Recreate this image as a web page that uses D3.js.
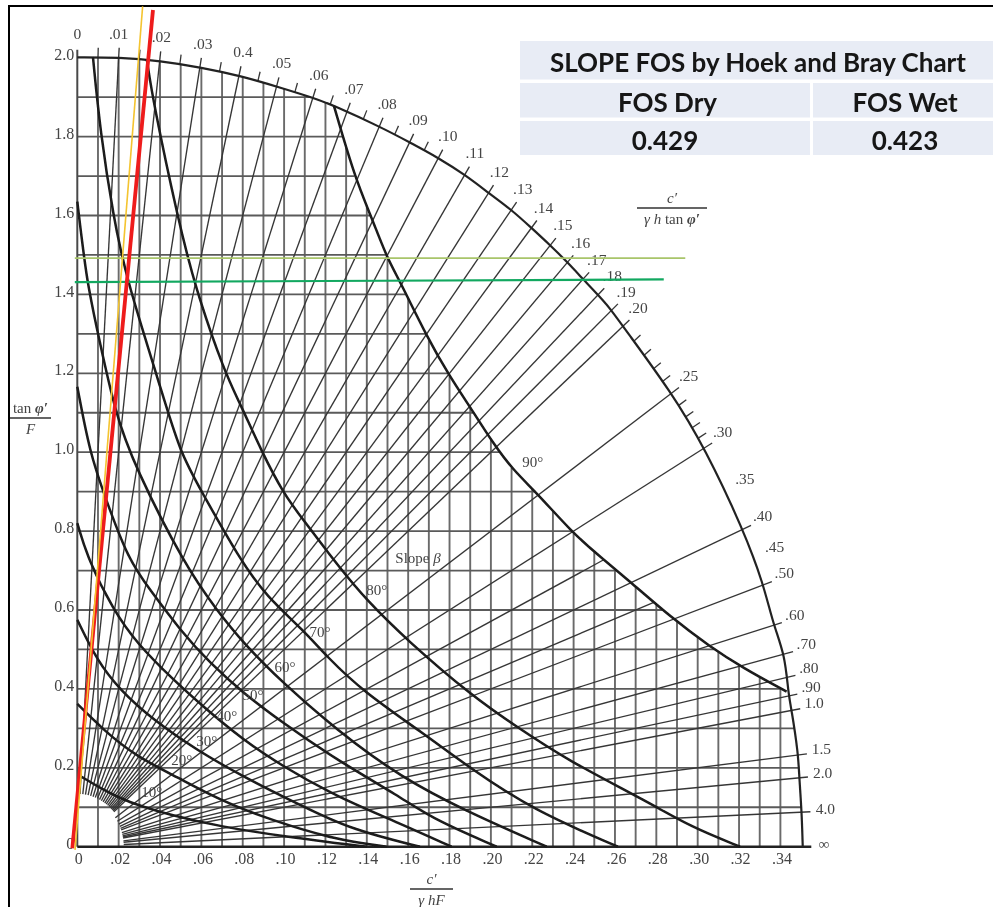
<!DOCTYPE html>
<html>
<head>
<meta charset="utf-8">
<script src="https://cdn.jsdelivr.net/npm/d3@7/dist/d3.min.js"></script>
<style>
html,body{margin:0;padding:0;background:#fff;overflow:hidden}
svg{display:block}
.serif{font-family:"Liberation Serif",serif;fill:#444}
.tbl{font-family:Lato,"Open Sans",sans-serif;font-weight:700;fill:#161616}
</style>
</head>
<body>
<svg id="chart" width="993" height="907"></svg>
<script>
// ---- axis ticks ----
const xTickValues = [0,.02,.04,.06,.08,.10,.12,.14,.16,.18,.20,.22,.24,.26,.28,.30,.32,.34];
const xTickLabels = ["0",".02",".04",".06",".08",".10",".12",".14",".16",".18",".20",".22",".24",".26",".28",".30",".32",".34"];
const yTickValues = [0,.2,.4,.6,.8,1,1.2,1.4,1.6,1.8,2];
const yTickLabels = ["0","0.2","0.4","0.6","0.8","1.0","1.2","1.4","1.6","1.8","2.0"];
const gridX = [.01,.02,.03,.04,.05,.06,.07,.08,.09,.10,.11,.12,.13,.14,.15,.16,.17,.18,.19,.20,.21,.22,.23,.24,.25,.26,.27,.28,.29,.30,.31,.32,.33,.34];
const gridY = [.1,.2,.3,.4,.5,.6,.7,.8,.9,1,1.1,1.2,1.3,1.4,1.5,1.6,1.7,1.8,1.9];

// ---- radial scale  c'/(γ h tan φ') ----
const radialK = [.01,.02,.03,.04,.05,.06,.07,.08,.09,.10,.11,.12,.13,.14,.15,.16,.17,.18,.19,.20,.25,.30,.40,.50,.60,.70,.80,.90,1.0,1.5,2.0,4.0];
const shortRadialK = [.35,.45];
const minorK = [.005,.015,.025,.035,.045,.055,.065,.075,.085,.095,.21,.22,.23,.24,.26,.27,.28,.29];
const arcLabelK = [0,.01,.02,.03,.04,.05,.06,.07,.08,.09,.10,.11,.12,.13,.14,.15,.16,.17,.18,.19,.20,.25,.30,.35,.40,.45,.50,.60,.70,.80,.90,1.0,1.5,2.0,4.0];
const arcLabelText = ["0",".01",".02",".03","0.4",".05",".06",".07",".08",".09",".10",".11",".12",".13",".14",".15",".16",".17",".18",".19",".20",".25",".30",".35",".40",".45",".50",".60",".70",".80",".90","1.0","1.5","2.0","4.0"];

// ---- outer boundary ----
const outerArc = [[0,2.001],[.0202,2.001],[.0401,1.992],[.0602,1.975],[.0790,1.954],[.0977,1.925],[.1149,1.897],[.1243,1.878],[.1464,1.825],[.1609,1.785],[.1750,1.745],[.1875,1.703],[.1992,1.656],[.2101,1.614],[.2197,1.568],[.2286,1.525],[.2367,1.483],[.2447,1.438],[.2518,1.399],[.2576,1.365],[.2640,1.318],[.2874,1.151],[.3035,1.010],[.3221,.803],[.3317,.668],[.3366,.562],[.3422,.486],[.3438,.389],[.3454,.347],[.3486,.237],[.3491,.177],[.3503,.089],[.3508,0]];

// ---- slope curves β: [c'/γhF, tanφ'/F] ----
const beta90 = [[.1241,1.878],[.1343,1.695],[.1424,1.594],[.1498,1.492],[.1560,1.434],[.1690,1.293],[.1802,1.191],[.1899,1.115],[.2010,1.023],[.2107,.955],[.2222,.897],[.2391,.798],[.2512,.742],[.2662,.677],[.2874,.580],[.3060,.507],[.3219,.453],[.3430,.393]];
const beta80 = [[.0336,1.996],[.0368,1.885],[.0488,1.589],[.0569,1.419],[.0714,1.200],[.0787,1.124],[.0892,1.001],[.0996,.896],[.1093,.828],[.1270,.706],[.1399,.625],[.1593,.524],[.1913,.380],[.2125,.304],[.2367,.220],[.2769,.111],[.2963,.051],[.3205,0]];
const beta70 = [[.0076,2.0],[.0110,1.817],[.0174,1.597],[.0239,1.437],[.0392,1.183],[.0497,.997],[.0602,.900],[.0787,.727],[.0916,.634],[.1093,.549],[.1206,.482],[.1383,.393],[.1672,.288],[.1899,.199],[.2204,.093],[.2614,0]];
const beta60 = [[0,1.635],[.0045,1.437],[.0086,1.335],[.0182,1.099],[.0279,.963],[.0521,.712],[.0674,.600],[.0803,.516],[.0996,.414],[.1254,.296],[.1560,.177],[.1899,.085],[.2270,0]];
const beta50 = [[0,1.166],[.0061,.997],[.0134,.887],[.0247,.727],[.0352,.651],[.0497,.549],[.0642,.465],[.0803,.389],[.0996,.313],[.1254,.220],[.1560,.127],[.1720,.070],[.2028,0]];
const beta40 = [[0,.82],[.0053,.727],[.0174,.600],[.0287,.516],[.0464,.423],[.0609,.355],[.0803,.270],[.0996,.203],[.1254,.127],[.1560,.059],[.1810,0]];
const beta30 = [[0,.575],[.0094,.473],[.0206,.397],[.0368,.321],[.0577,.245],[.0803,.177],[.1093,.101],[.1335,.042],[.1657,0]];
const beta20 = [[0,.362],[.0126,.296],[.0287,.228],[.0481,.177],[.0690,.118],[.0932,.068],[.1254,.017],[.1496,0]];
const beta10 = [[.0021,.177],[.0126,.144],[.0239,.114],[.0448,.080],[.0690,.051],[.1013,.025],[.1335,.004],[.1400,0]];
const betaCurves = [beta90,beta80,beta70,beta60,beta50,beta40,beta30,beta20,beta10];
const betaNames = ["90°","80°","70°","60°","50°","40°","30°","20°","10°"];

// ---- overlaid reading lines ----
const redLine = [[-.0024,-.004],[.0366,2.121]];
const yellowLine = [[-.0011,-.008],[.0316,2.13]];
const wetLevel = [[-.0012,1.431],[.2836,1.438]];
const dryLevel = [[-.0012,1.492],[.2940,1.492]];

// ---- result table ----
const tableTitle = "SLOPE FOS by Hoek and Bray Chart";
const tableHeads = ["FOS Dry","FOS Wet"];
const tableValues = ["0.429","0.423"];

// ---- layout ----
const x = d3.scaleLinear().domain([0,.34]).range([77.3,780.4]);
const y = d3.scaleLinear().domain([0,2]).range([846.7,57.7]);
const arcA = .351, arcB = 2.0, innerFan = .067, innerLow = .064, tickOut = 1.012;
const svg = d3.select("#chart");
svg.append("defs").append("filter").attr("id","soft")
  .attr("filterUnits","userSpaceOnUse").attr("x",0).attr("y",0).attr("width",993).attr("height",907)
  .append("feGaussianBlur").attr("stdDeviation",.45);

// where the ray x = k·y meets a polyline
const rayHit = (k,poly) => {
  for (let i=1;i<poly.length;i++){
    const a=poly[i-1], b=poly[i], fa=a[0]-k*a[1], fb=b[0]-k*b[1];
    if (fa<=0 && fb>=0){ const t=(fb-fa)===0?0:-fa/(fb-fa); return [a[0]+t*(b[0]-a[0]),a[1]+t*(b[1]-a[1])]; }
  }
  return poly[poly.length-1];
};
const onInner = (k,r) => { const yy = r/Math.sqrt((k/arcA)**2+(1/arcB)**2); return [k*yy,yy]; };
const scaled = (p,f) => [p[0]*f,p[1]*f];
const lerpOn = (poly,key,val,other) => {
  for (let i=1;i<poly.length;i++){
    const a=poly[i-1], b=poly[i];
    if ((a[key]-val)*(b[key]-val)<=0 && a[key]!==b[key]) return a[other]+(val-a[key])/(b[key]-a[key])*(b[other]-a[other]);
  }
  return null;
};
const arcYatX = v => lerpOn(outerArc,0,v,1);
const arcXatY = v => lerpOn(outerArc,1,v,0);
const gridRightEdge = v => { const e = lerpOn(beta90,1,v,0); return e===null?arcXatY(v):e; };
const gridTopEdge = v => { const e = lerpOn(beta90,0,v,1); return e===null?arcYatX(v):e; };

const line = d3.line().x(d=>x(d[0])).y(d=>y(d[1]));
const smooth = d3.line().x(d=>x(d[0])).y(d=>y(d[1])).curve(d3.curveBasis);

// frame
svg.append("line").attr("x1",9).attr("x2",993).attr("y1",6).attr("y2",6).attr("stroke","#000").attr("stroke-width",2);
svg.append("line").attr("x1",9).attr("x2",9).attr("y1",5).attr("y2",907).attr("stroke","#000").attr("stroke-width",2);

const plot = svg.append("g").attr("filter","url(#soft)");

// grid
plot.append("g").selectAll("line").data(gridX).join("line")
  .attr("x1",d=>x(d)).attr("x2",d=>x(d)).attr("y1",y(0)).attr("y2",d=>y(gridTopEdge(d)))
  .attr("stroke","#6a6a6a").attr("stroke-width",1.9);
plot.append("g").selectAll("line").data(gridY).join("line")
  .attr("x1",x(0)).attr("x2",d=>x(gridRightEdge(d))).attr("y1",d=>y(d)).attr("y2",d=>y(d))
  .attr("stroke","#5a5a5a").attr("stroke-width",1.8);

// radial lines and ticks
plot.append("g").selectAll("path").data(radialK).join("path")
  .attr("d",k=>line([onInner(k,k<=.2?innerFan:innerLow),scaled(rayHit(k,outerArc),tickOut)]))
  .attr("fill","none").attr("stroke","#363636").attr("stroke-width",1.35);
plot.append("g").selectAll("path").data(shortRadialK).join("path")
  .attr("d",k=>line([onInner(k,innerLow),rayHit(k,beta90)]))
  .attr("fill","none").attr("stroke","#363636").attr("stroke-width",1.35);
plot.append("g").selectAll("path").data(minorK).join("path")
  .attr("d",k=>line([rayHit(k,outerArc),scaled(rayHit(k,outerArc),tickOut)]))
  .attr("fill","none").attr("stroke","#363636").attr("stroke-width",1.3);

// axes lines
plot.append("line").attr("x1",x(0)).attr("x2",x(0)).attr("y1",y(0)).attr("y2",y(2)-8).attr("stroke","#4a4a4a").attr("stroke-width",2);
plot.append("line").attr("x1",x(0)).attr("x2",x(0)+734).attr("y1",y(0)).attr("y2",y(0)).attr("stroke","#222").attr("stroke-width",2.4);

// outer arc
plot.append("path").datum(outerArc).attr("d",smooth).attr("fill","none").attr("stroke","#222").attr("stroke-width",2.2);

// β curves
plot.append("g").selectAll("path").data(betaCurves).join("path")
  .attr("d",smooth).attr("fill","none").attr("stroke","#1a1a1a").attr("stroke-width",2.5);

// axis tick labels
const gx = plot.append("g").attr("transform",`translate(0,${y(0)})`)
  .call(d3.axisBottom(x).tickValues(xTickValues).tickSize(0).tickPadding(6).tickFormat((d,i)=>xTickLabels[i]));
gx.select(".domain").remove();
gx.selectAll("text").attr("class","serif").attr("font-size",16).attr("fill",null).attr("dx",1);
const gy = plot.append("g").attr("transform",`translate(${x(0)},0)`)
  .call(d3.axisLeft(y).tickValues(yTickValues).tickSize(0).tickPadding(3).tickFormat((d,i)=>yTickLabels[i]));
gy.select(".domain").remove();
gy.selectAll("text").attr("class","serif").attr("font-size",16).attr("fill",null).attr("dy","0.1em");

// labels along the arc
const labelPos = k => {
  const [vx,vy] = rayHit(k,outerArc);
  const s = Math.pow(vy/arcB,.6), c = Math.sqrt(Math.max(0,1-s*s));
  return [x(vx)+24*c, y(vy)-24*s];
};
plot.append("g").selectAll("text").data(arcLabelK).join("text")
  .attr("class","serif").attr("font-size",15.5).attr("text-anchor","middle").attr("dominant-baseline","central")
  .attr("x",k=>labelPos(k)[0]).attr("y",k=>labelPos(k)[1])
  .text((k,i)=>arcLabelText[i]);
plot.append("text").attr("class","serif").attr("font-size",15).attr("text-anchor","middle")
  .attr("x",824).attr("y",849).text("∞");

// β labels
const betaLabelAnchors = [[532.7,461.7],[376.7,590],[320,631.7],[285,667.3],[253,695],[226.7,716],[206.7,740.7],[181.7,760],[151.7,791.7]];
plot.append("g").selectAll("text").data(betaNames).join("text")
  .attr("class","serif").attr("font-size",15).attr("text-anchor","middle").attr("dominant-baseline","central")
  .attr("x",(d,i)=>betaLabelAnchors[i][0]).attr("y",(d,i)=>betaLabelAnchors[i][1]).text(d=>d);
const slope = plot.append("text").attr("class","serif").attr("font-size",15).attr("text-anchor","middle").attr("dominant-baseline","central").attr("x",418).attr("y",558);
slope.append("tspan").text("Slope ");
slope.append("tspan").attr("font-style","italic").text("β");

// fractions
function fraction(cx,lineY,halfW,top,bottomParts,size){
  const g = plot.append("g").attr("text-anchor","middle").attr("font-size",size);
  const t = g.append("text").attr("class","serif").attr("x",cx).attr("y",lineY-5);
  top.forEach(p=>t.append("tspan").attr("font-style",p[1]?"italic":"normal").attr("font-weight",p[2]?"700":"400").text(p[0]));
  g.append("line").attr("x1",cx-halfW).attr("x2",cx+halfW).attr("y1",lineY).attr("y2",lineY).attr("stroke","#333").attr("stroke-width",1.3);
  const b = g.append("text").attr("class","serif").attr("x",cx).attr("y",lineY+16);
  bottomParts.forEach(p=>b.append("tspan").attr("font-style",p[1]?"italic":"normal").attr("font-weight",p[2]?"700":"400").text(p[0]));
}
fraction(672,208,35,[["c′",1]],[["γ h",1],["  tan ",0],["φ′",1,1]],15);
fraction(30.5,418,20.5,[["tan ",0],["φ′",1,1]],[["F",1]],15);
fraction(431.5,889,21.5,[["c′",1]],[["γ hF",1]],15);

// reading lines
svg.append("path").attr("d",line(dryLevel)).attr("stroke","#a8c56a").attr("stroke-width",1.6).attr("fill","none");
svg.append("path").attr("d",line(wetLevel)).attr("stroke","#12a860").attr("stroke-width",2.2).attr("fill","none");
svg.append("path").attr("d",line(redLine)).attr("stroke","#ee1c1c").attr("stroke-width",3.8).attr("fill","none");
svg.append("path").attr("d",line(yellowLine)).attr("stroke","#f4c430").attr("stroke-width",1.6).attr("fill","none");

// table
const table = svg.append("g").attr("filter","url(#soft)");
const cellFill = "#e8ecf5";
const rowTops = [41,83,121], rowBottoms = [79.5,117.5,155];
table.append("rect").attr("x",520).attr("y",rowTops[0]).attr("width",473).attr("height",rowBottoms[0]-rowTops[0]).attr("fill",cellFill);
[1,2].forEach(r=>{
  table.append("rect").attr("x",520).attr("y",rowTops[r]).attr("width",290).attr("height",rowBottoms[r]-rowTops[r]).attr("fill",cellFill);
  table.append("rect").attr("x",813).attr("y",rowTops[r]).attr("width",180).attr("height",rowBottoms[r]-rowTops[r]).attr("fill",cellFill);
});
const tableText = (t,cx,cy)=>table.append("text").attr("class","tbl").attr("font-size",26).attr("text-anchor","middle").attr("dominant-baseline","central").attr("x",cx).attr("y",cy).text(t);
tableText(tableTitle,758,62);
tableText(tableHeads[0],667.5,102); tableText(tableHeads[1],905,102);
tableText(tableValues[0],665,140); tableText(tableValues[1],905,140);
</script>
</body>
</html>
